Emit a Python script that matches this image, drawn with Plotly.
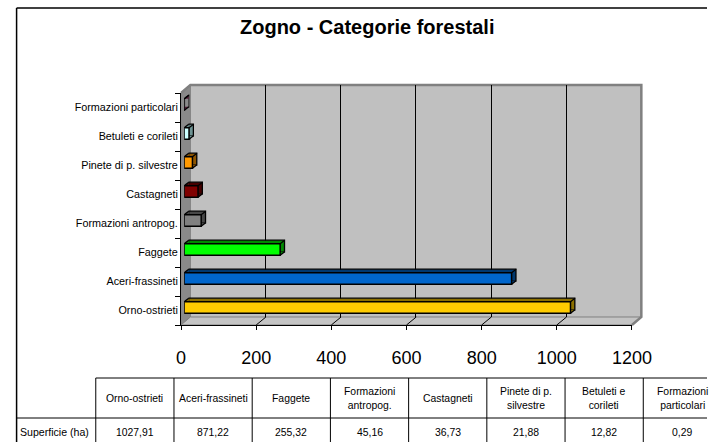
import plotly.graph_objects as go

# ---------------- data ----------------
categories = ["Orno-ostrieti", "Aceri-frassineti", "Faggete", "Formazioni antropog.",
              "Castagneti", "Pinete di p. silvestre", "Betuleti e corileti",
              "Formazioni particolari"]
values = [1027.91, 871.22, 255.32, 45.16, 36.73, 21.88, 12.82, 0.29]
table_headers = ["Orno-ostrieti", "Aceri-frassineti", "Faggete", "Formazioni<br>antropog.",
                 "Castagneti", "Pinete di p.<br>silvestre", "Betuleti e<br>corileti",
                 "Formazioni<br>particolari"]
row_label = "Superficie (ha)"
x_ticks = [0, 200, 400, 600, 800, 1000, 1200]
title = "Zogno - Categorie forestali"

front_colors = ["#FFCC00", "#0066CC", "#00FF00", "#808080",
                "#800000", "#FF9900", "#CCFFFF", "#993366"]
side_colors = ["#8C7000", "#00386F", "#008A00", "#474747",
               "#470000", "#8C5400", "#6E9494", "#551C38"]

# ---------------- geometry (pixels) ----------------
W, H = 727, 442
FX0, FX1 = 182.3, 649.3      # front plane x extent
FY0, FY1 = 93.0, 325.0       # front plane y extent (top, bottom)
WDX, WDY = 9.7, 8.0          # wall depth offset (right, up)
BDX0, BDY0 = 3.3, 3.0        # bar front-face plane offset
BDX, BDY = 4.5, 3.5          # bar depth
BAR_W = 0.4

FONT = "Liberation Sans, Arial, sans-serif"


def px(x):
    return x / W


def py(y):
    return 1 - y / H


def dom_x(x0, x1):
    return [px(x0), px(x1)]


def dom_y(ytop, ybot):
    return [py(ybot), py(ytop)]


xr = [x_ticks[0], x_ticks[-1]]
yr = [-0.5, len(categories) - 0.5]

fig = go.Figure()

# back wall subplot (grid only)
fig.add_trace(go.Scatter(x=[], y=[], xaxis="x", yaxis="y", showlegend=False, hoverinfo="skip"))
# bar back faces
fig.add_trace(go.Bar(x=values, y=categories, orientation="h", width=BAR_W,
                     marker=dict(color=side_colors, line=dict(color="black", width=1.3)),
                     xaxis="x2", yaxis="y2", showlegend=False, hoverinfo="skip"))
# bar front faces
fig.add_trace(go.Bar(x=values, y=categories, orientation="h", width=BAR_W,
                     marker=dict(color=front_colors, line=dict(color="black", width=1.5)),
                     xaxis="x3", yaxis="y3", showlegend=False,
                     hovertemplate="%{y}: %{x}<extra></extra>"))
# front axes (labels / ticks)
fig.add_trace(go.Scatter(x=values, y=categories, mode="markers", marker=dict(opacity=0),
                         xaxis="x4", yaxis="y4", showlegend=False, hoverinfo="skip"))

hidden_cat = dict(type="category", categoryorder="array", categoryarray=categories,
                  range=yr, visible=False, fixedrange=True)

fig.update_layout(
    width=W, height=H, autosize=False, margin=dict(l=0, r=0, t=0, b=0, pad=0),
    paper_bgcolor="white", plot_bgcolor="rgba(0,0,0,0)",
    font=dict(family=FONT, color="black"),
    showlegend=False,
    xaxis=dict(domain=dom_x(FX0 + WDX, FX1 + WDX), range=xr, tickvals=x_ticks[1:-1],
               showgrid=True, gridcolor="black", gridwidth=1, showticklabels=False,
               ticks="", showline=False, zeroline=False, anchor="y", fixedrange=True),
    yaxis=dict(domain=dom_y(FY0 - WDY, FY1 - WDY), range=[0, 1], visible=False,
               anchor="x", fixedrange=True),
    xaxis2=dict(domain=dom_x(FX0 + BDX0 + BDX, FX1 + BDX0 + BDX), range=xr, visible=False,
                anchor="y2", fixedrange=True),
    yaxis2=dict(domain=dom_y(FY0 - BDY0 - BDY, FY1 - BDY0 - BDY), anchor="x2", **hidden_cat),
    xaxis3=dict(domain=dom_x(FX0 + BDX0, FX1 + BDX0), range=xr, visible=False,
                anchor="y3", fixedrange=True),
    yaxis3=dict(domain=dom_y(FY0 - BDY0, FY1 - BDY0), anchor="x3", **hidden_cat),
    xaxis4=dict(domain=dom_x(FX0, FX1), range=xr, tickvals=x_ticks, showgrid=False,
                zeroline=False, showline=True, linecolor="black", linewidth=1,
                ticks="outside", ticklen=4, tickcolor="black",
                tickfont=dict(size=18, family=FONT), ticklabelstandoff=12,
                anchor="y4", fixedrange=True),
    yaxis4=dict(domain=dom_y(FY0, FY1), type="category", categoryorder="array",
                categoryarray=categories, range=yr, showgrid=False, zeroline=False,
                showline=True, linecolor="black", linewidth=1, ticks="outside",
                ticklen=5, tickcolor="black", tickson="boundaries",
                tickfont=dict(size=10.8, family=FONT), anchor="x4", fixedrange=True),
)

shapes = []


def ppath(points, close=True):
    s = "M " + " L ".join(f"{px(x):.5f},{py(y):.5f}" for x, y in points)
    return s + (" Z" if close else "")


# back wall
shapes.append(dict(type="rect", xref="paper", yref="paper", layer="below",
                   x0=px(FX0 + WDX), x1=px(FX1 + WDX), y0=py(FY1 - WDY), y1=py(FY0 - WDY),
                   fillcolor="#C0C0C0", line=dict(width=0)))
# left wall
shapes.append(dict(type="path", xref="paper", yref="paper", layer="below",
                   path=ppath([(FX0, FY0), (FX0 + WDX, FY0 - WDY), (FX0 + WDX, FY1 - WDY), (FX0, FY1)]),
                   fillcolor="#8A8A8A", line=dict(color="#808080", width=1)))
# floor
shapes.append(dict(type="path", xref="paper", yref="paper", layer="below",
                   path=ppath([(FX0, FY1), (FX0 + WDX, FY1 - WDY), (FX1 + WDX, FY1 - WDY), (FX1, FY1)]),
                   fillcolor="#C4C4C4", line=dict(color="#808080", width=1)))
# wall top/right border
shapes.append(dict(type="path", xref="paper", yref="paper", layer="below",
                   path=ppath([(FX0, FY0), (FX0 + WDX, FY0 - WDY), (FX1 + WDX, FY0 - WDY),
                               (FX1 + WDX, FY1 - WDY), (FX1, FY1)], close=False),
                   line=dict(color="#808080", width=2.5)))
# floor gridline stubs
for v in x_ticks[1:-1]:
    shapes.append(dict(type="line", xref="x4", yref="paper", layer="below",
                       xsizemode="pixel", xanchor=v, x0=0, x1=WDX,
                       y0=py(FY1), y1=py(FY1 - WDY), line=dict(color="black", width=1)))

# bar 3D corners
for i, v in enumerate(values):
    top = i + BAR_W / 2
    bot = i - BAR_W / 2
    shapes.append(dict(type="path", xref="x3", yref="y3", layer="below",
                       xsizemode="pixel", ysizemode="pixel", xanchor=0, yanchor=top,
                       path=f"M 0,0 L {BDX},0 L {BDX},{BDY} Z",
                       fillcolor=side_colors[i], line=dict(width=0)))
    shapes.append(dict(type="path", xref="x3", yref="y3", layer="below",
                       xsizemode="pixel", ysizemode="pixel", xanchor=v, yanchor=bot,
                       path=f"M 0,0 L 0,{BDY} L {BDX},{BDY} Z",
                       fillcolor=side_colors[i], line=dict(width=0)))
    for xa, ya in [(0, top), (v, top), (v, bot)]:
        shapes.append(dict(type="line", xref="x3", yref="y3", layer="above",
                           xsizemode="pixel", ysizemode="pixel", xanchor=xa, yanchor=ya,
                           x0=0, x1=BDX, y0=0, y1=BDY, line=dict(color="black", width=1.2)))

# outer chart border (left and top)
shapes.append(dict(type="line", xref="paper", yref="paper", x0=px(12), x1=px(12),
                   y0=py(8), y1=0, line=dict(color="black", width=1.5)))
shapes.append(dict(type="line", xref="paper", yref="paper", x0=px(12), x1=1,
                   y0=py(8), y1=py(8), line=dict(color="black", width=1.5)))

# data table grid
T_TOP, T_MID = 378, 418
C0, CW = 94, 81
shapes.append(dict(type="line", xref="paper", yref="paper", x0=px(C0), x1=1,
                   y0=py(T_TOP), y1=py(T_TOP), line=dict(color="black", width=1)))
shapes.append(dict(type="line", xref="paper", yref="paper", x0=px(12), x1=1,
                   y0=py(T_MID), y1=py(T_MID), line=dict(color="black", width=1)))
for k in range(len(categories)):
    xk = C0 + CW * k
    shapes.append(dict(type="line", xref="paper", yref="paper", x0=px(xk), x1=px(xk),
                       y0=py(T_TOP), y1=0, line=dict(color="black", width=1)))

annotations = [dict(text=f"<b>{title}</b>", x=px(375), y=py(27), xref="paper", yref="paper",
                    showarrow=False, xanchor="center", yanchor="middle",
                    font=dict(size=20, family=FONT, color="black"))]
for k, (hdr, v) in enumerate(zip(table_headers, values)):
    cx = C0 + CW * k + CW / 2
    annotations.append(dict(text=hdr, x=px(cx), y=py((T_TOP + T_MID) / 2), xref="paper",
                            yref="paper", showarrow=False, xanchor="center", yanchor="middle",
                            font=dict(size=10.4, family=FONT, color="black")))
    annotations.append(dict(text=f"{v:.2f}".replace(".", ","), x=px(cx), y=py(432),
                            xref="paper", yref="paper", showarrow=False, xanchor="center",
                            yanchor="middle", font=dict(size=10.4, family=FONT, color="black")))
annotations.append(dict(text=row_label, x=px(13), y=py(432), xref="paper", yref="paper",
                        showarrow=False, xanchor="left", yanchor="middle",
                        font=dict(size=10.6, family=FONT, color="black")))

fig.update_layout(shapes=shapes, annotations=annotations)
fig.write_html("out.html", config={"responsive": False, "displayModeBar": False})
